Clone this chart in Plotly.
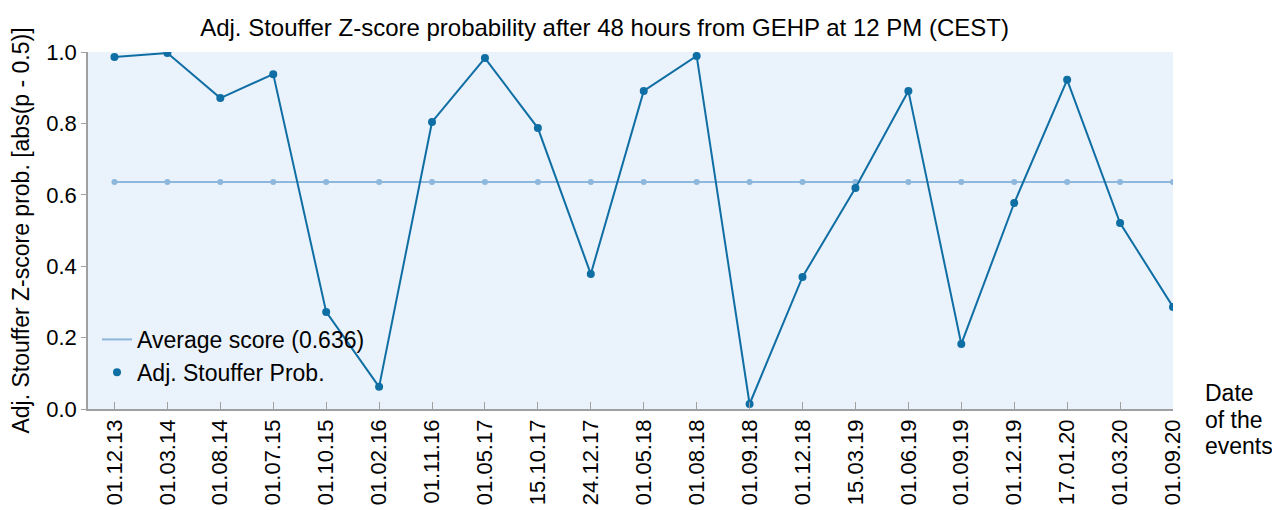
import plotly.graph_objects as go

dates = ["01.12.13", "01.03.14", "01.08.14", "01.07.15", "01.10.15", "01.02.16",
         "01.11.16", "01.05.17", "15.10.17", "24.12.17", "01.05.18", "01.08.18",
         "01.09.18", "01.12.18", "15.03.19", "01.06.19", "01.09.19", "01.12.19",
         "17.01.20", "01.03.20", "01.09.20"]
prob = [0.986, 0.997, 0.871, 0.938, 0.272, 0.062, 0.804, 0.983, 0.787, 0.378,
        0.891, 0.989, 0.014, 0.370, 0.619, 0.891, 0.182, 0.577, 0.922, 0.521, 0.286]
avg_value = 0.636
avg = [avg_value] * len(dates)
yticks = [0.0, 0.2, 0.4, 0.6, 0.8, 1.0]
xlabel_lines = ["Date", "of the", "events"]

dark = "#0f6ea3"
light = "#8db7dc"
axis_col = "#a0a0a0"
font = "Liberation Sans, Arial, sans-serif"

fig = go.Figure()
fig.add_trace(go.Scatter(x=dates, y=avg, mode="lines+markers",
                         line=dict(color=light, width=2),
                         marker=dict(color=light, size=6),
                         showlegend=False))
fig.add_trace(go.Scatter(x=dates, y=prob, mode="lines+markers",
                         line=dict(color=dark, width=2),
                         marker=dict(color=dark, size=8),
                         showlegend=False))
# legend entries
fig.add_trace(go.Scatter(x=[None], y=[None], mode="lines",
                         line=dict(color=light, width=2),
                         name=f"Average score ({avg_value})"))
fig.add_trace(go.Scatter(x=[None], y=[None], mode="markers",
                         marker=dict(color=dark, size=8),
                         name="Adj. Stouffer Prob."))

ann = []
for txt, yy in zip(xlabel_lines, [0.045, -0.031, -0.104]):
    ann.append(dict(text=txt, x=1.0275, y=yy, xref="paper", yref="paper",
                    xanchor="left", yanchor="middle", align="left",
                    showarrow=False, font=dict(size=23)))

fig.update_layout(
    width=1272, height=502,
    margin=dict(l=80, r=107, t=44, b=101),
    paper_bgcolor="white",
    plot_bgcolor="#eaf2fb",
    font=dict(family=font, size=22, color="black"),
    title=dict(text="Adj. Stouffer Z-score probability after 48 hours from GEHP at 12 PM (CEST)",
               x=0.469, xanchor="center", xref="container",
               y=0.96, yanchor="middle", yref="container",
               font=dict(size=24)),
    legend=dict(x=0.0083, y=0.255, xanchor="left", yanchor="top",
                bgcolor="rgba(0,0,0,0)", font=dict(size=23),
                itemwidth=30, tracegroupgap=0),
    annotations=ann,
)
fig.update_xaxes(type="category", range=[-0.5, len(dates) - 1],
                 tickangle=-90, showgrid=False, showline=True,
                 linecolor=axis_col, linewidth=1.5, ticks="inside",
                 tickcolor=axis_col, ticklen=7, tickfont=dict(size=22),
                 zeroline=False, automargin=False)
fig.update_yaxes(range=[0, 1], tickvals=yticks, tickformat=".1f",
                 showgrid=False, showline=True, linecolor=axis_col,
                 linewidth=1.5, ticks="outside", tickcolor=axis_col,
                 ticklen=5, tickfont=dict(size=22), zeroline=False,
                 automargin=False,
                 title=dict(text="Adj. Stouffer Z-score prob. [abs(p - 0.5)]",
                            font=dict(size=23), standoff=14))

fig.write_html("out.html")
